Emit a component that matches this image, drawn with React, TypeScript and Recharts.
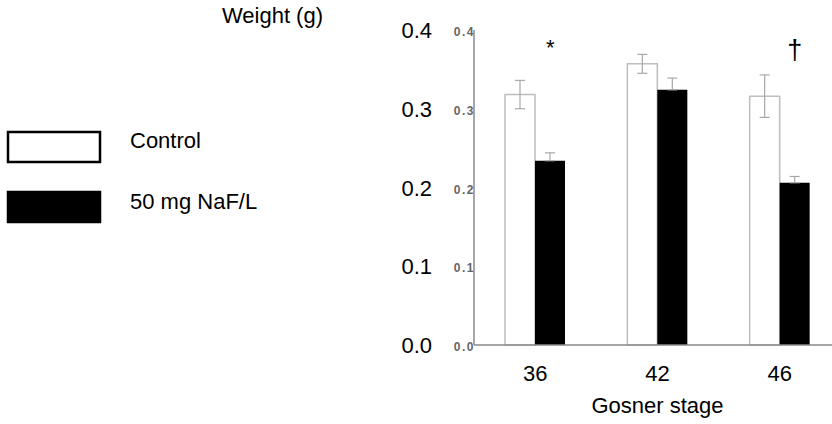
import React from 'react';
import { BarChart, Bar, XAxis, YAxis, ErrorBar, Legend, ReferenceDot } from 'recharts';

const stages = ['36', '42', '46'];
const seriesNames = ['Control', '50 mg NaF/L'];
const control = [0.318, 0.357, 0.316];
const controlSe = [0.018, 0.012, 0.027];
const naf = [0.234, 0.324, 0.206];
const nafSe = [0.01, 0.015, 0.008];
const marks = ['*', '', '†'];
const markLevel = 0.378;
const yTicks = [0, 0.1, 0.2, 0.3, 0.4];

const FONT = '"Liberation Sans", Arial, sans-serif';

const data = stages.map((stage, i) => ({
  stage,
  control: control[i],
  controlErr: controlSe[i],
  naf: naf[i],
  nafErr: [0, nafSe[i]],
}));

const YTick = (props: any) => {
  const { x, y, payload } = props;
  const label = payload.value.toFixed(1);
  return (
    <g>
      <text x={x - 42} y={y + 8} textAnchor="end" fontSize={22} fontFamily={FONT} fill="#000">
        {label}
      </text>
      <text
        x={x + 1}
        y={y + 6}
        textAnchor="end"
        fontSize={12}
        fontWeight="bold"
        letterSpacing={1.5}
        fontFamily={FONT}
        fill="#666"
      >
        {label}
      </text>
    </g>
  );
};

const XTick = (props: any) => {
  const { x, y, payload } = props;
  return (
    <text x={x} y={y + 36} textAnchor="middle" fontSize={22} fontFamily={FONT} fill="#000">
      {payload.value}
    </text>
  );
};

const LegendBoxes = (props: any) => {
  const payload: any[] = props.payload || [];
  const ordered = seriesNames
    .map((name) => payload.find((p) => p.value === name))
    .filter(Boolean);
  return (
    <svg width={330} height={240}>
      {ordered.map((entry: any, i: number) => (
        <g key={entry.value}>
          <rect
            x={8}
            y={132 + i * 60}
            width={92}
            height={30}
            fill={entry.color}
            stroke="#000"
            strokeWidth={2.5}
          />
          <text x={130} y={148 + i * 61} fontSize={22} fontFamily={FONT} fill="#000">
            {entry.value}
          </text>
        </g>
      ))}
    </svg>
  );
};

const MarkLabel = (props: any) => {
  const { viewBox, value } = props;
  const cx = viewBox.x + viewBox.width / 2 + 15;
  const cy = viewBox.y + viewBox.height / 2;
  const dagger = value === '†';
  return (
    <text
      x={cx}
      y={dagger ? cy + 12 : cy + 8}
      textAnchor="middle"
      fontSize={dagger ? 27 : 22}
      fontFamily={FONT}
      fill="#000"
    >
      {value}
    </text>
  );
};

export default function App() {
  return (
    <div style={{ position: 'fixed', left: 0, top: 0, width: 832, height: 424, overflow: 'hidden', background: '#fff' }}>
      <BarChart
        width={860}
        height={424}
        data={data}
        margin={{ top: 30, right: 19, left: 374, bottom: 0 }}
        barGap={0}
      >
        <XAxis
          dataKey="stage"
          height={79}
          tickLine={false}
          tickSize={0}
          tickMargin={0}
          axisLine={{ stroke: '#8a8a8a', strokeWidth: 1.5 }}
          tick={<XTick />}
          label={{
            content: ({ viewBox }: any) => (
              <text
                x={viewBox.x + viewBox.width / 2}
                y={viewBox.y + 68}
                textAnchor="middle"
                fontSize={22}
                fontFamily={FONT}
                fill="#000"
              >
                Gosner stage
              </text>
            ),
          }}
        />
        <YAxis
          width={100}
          domain={[0, 0.4]}
          ticks={yTicks}
          tickLine={false}
          tickSize={0}
          tickMargin={0}
          axisLine={{ stroke: '#8a8a8a', strokeWidth: 1.5 }}
          tick={<YTick />}
          label={{
            content: ({ viewBox }: any) => (
              <text x={viewBox.x - 51} y={viewBox.y - 7} textAnchor="end" fontSize={22} fontFamily={FONT} fill="#000">
                Weight (g)
              </text>
            ),
          }}
        />
        <Legend
          layout="vertical"
          align="center"
          verticalAlign="middle"
          wrapperStyle={{ left: 0, top: 0, width: 330, height: 240 }}
          content={<LegendBoxes />}
        />
        <Bar dataKey="control" name={seriesNames[0]} fill="#ffffff" stroke="#bdbdbd" strokeWidth={1.5} barSize={30} isAnimationActive={false}>
          <ErrorBar dataKey="controlErr" width={5} stroke="#a8a8a8" strokeWidth={1.2} />
        </Bar>
        <Bar dataKey="naf" name={seriesNames[1]} fill="#000000" barSize={30} isAnimationActive={false}>
          <ErrorBar dataKey="nafErr" width={5} stroke="#a8a8a8" strokeWidth={1.2} />
        </Bar>
        {stages.map((s, i) =>
          marks[i] ? (
            <ReferenceDot
              key={s}
              x={s}
              y={markLevel}
              r={0}
              fill="none"
              stroke="none"
              label={{ value: marks[i], content: <MarkLabel /> }}
            />
          ) : null
        )}
      </BarChart>
    </div>
  );
}
